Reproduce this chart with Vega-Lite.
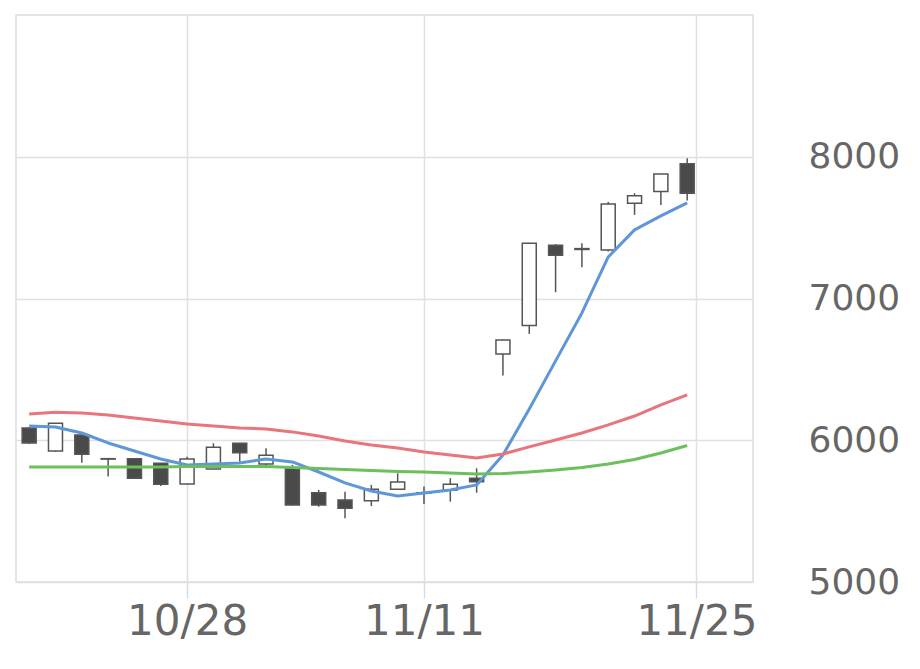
{
  "$schema": "https://vega.github.io/schema/vega-lite/v6.json",
  "autosize": {"type": "none"},
  "width": 737,
  "height": 567,
  "padding": {"left": 16, "top": 15, "right": 167, "bottom": 87},
  "background": "white",
  "config": {
    "view": {"stroke": "#dddddd", "strokeWidth": 1.5},
    "axis": {"labelFont": "DejaVu Sans", "labelColor": "#666666", "labelFontSize": 36, "gridColor": "#e0e0e0", "gridWidth": 1.5, "domain": false}
  },
  "data": {"values": [
    {"i": 0, "date": "10/18", "open": 6087, "high": 6090, "low": 5975, "close": 5981, "ma5": 6101, "ma25": 6186, "ma75": 5812},
    {"i": 1, "date": "10/21", "open": 5924, "high": 6122, "low": 5917, "close": 6120, "ma5": 6094, "ma25": 6198, "ma75": 5812},
    {"i": 2, "date": "10/22", "open": 6037, "high": 6040, "low": 5842, "close": 5901, "ma5": 6051, "ma25": 6193, "ma75": 5812},
    {"i": 3, "date": "10/23", "open": 5870, "high": 5872, "low": 5745, "close": 5867, "ma5": 5981, "ma25": 6178, "ma75": 5812},
    {"i": 4, "date": "10/24", "open": 5870, "high": 5872, "low": 5728, "close": 5732, "ma5": 5924, "ma25": 6157, "ma75": 5812},
    {"i": 5, "date": "10/25", "open": 5838, "high": 5840, "low": 5678, "close": 5690, "ma5": 5868, "ma25": 6136, "ma75": 5812},
    {"i": 6, "date": "10/28", "open": 5692, "high": 5884, "low": 5690, "close": 5868, "ma5": 5826, "ma25": 6115, "ma75": 5815},
    {"i": 7, "date": "10/29", "open": 5797, "high": 5979, "low": 5795, "close": 5951, "ma5": 5833, "ma25": 6101, "ma75": 5815},
    {"i": 8, "date": "10/30", "open": 5979, "high": 5982, "low": 5849, "close": 5912, "ma5": 5840, "ma25": 6087, "ma75": 5815},
    {"i": 9, "date": "10/31", "open": 5833, "high": 5944, "low": 5802, "close": 5894, "ma5": 5868, "ma25": 6080, "ma75": 5815},
    {"i": 10, "date": "11/01", "open": 5802, "high": 5826, "low": 5540, "close": 5543, "ma5": 5847, "ma25": 6059, "ma75": 5808},
    {"i": 11, "date": "11/05", "open": 5630, "high": 5649, "low": 5531, "close": 5543, "ma5": 5776, "ma25": 6030, "ma75": 5801},
    {"i": 12, "date": "11/06", "open": 5579, "high": 5637, "low": 5450, "close": 5520, "ma5": 5699, "ma25": 5995, "ma75": 5794},
    {"i": 13, "date": "11/07", "open": 5574, "high": 5685, "low": 5536, "close": 5654, "ma5": 5642, "ma25": 5967, "ma75": 5787},
    {"i": 14, "date": "11/08", "open": 5654, "high": 5767, "low": 5652, "close": 5706, "ma5": 5607, "ma25": 5946, "ma75": 5780},
    {"i": 15, "date": "11/11", "open": 5630, "high": 5673, "low": 5550, "close": 5628, "ma5": 5628, "ma25": 5917, "ma75": 5776},
    {"i": 16, "date": "11/12", "open": 5649, "high": 5732, "low": 5567, "close": 5689, "ma5": 5649, "ma25": 5896, "ma75": 5769},
    {"i": 17, "date": "11/13", "open": 5732, "high": 5802, "low": 5630, "close": 5708, "ma5": 5685, "ma25": 5875, "ma75": 5762},
    {"i": 18, "date": "11/14", "open": 6609, "high": 6710, "low": 6456, "close": 6708, "ma5": 5896, "ma25": 5903, "ma75": 5765},
    {"i": 19, "date": "11/15", "open": 6809, "high": 7392, "low": 6750, "close": 7390, "ma5": 6221, "ma25": 5953, "ma75": 5776},
    {"i": 20, "date": "11/18", "open": 7376, "high": 7383, "low": 7044, "close": 7305, "ma5": 6560, "ma25": 6002, "ma75": 5790},
    {"i": 21, "date": "11/19", "open": 7352, "high": 7390, "low": 7221, "close": 7346, "ma5": 6898, "ma25": 6051, "ma75": 5808},
    {"i": 22, "date": "11/20", "open": 7343, "high": 7680, "low": 7331, "close": 7666, "ma5": 7293, "ma25": 6108, "ma75": 5833},
    {"i": 23, "date": "11/21", "open": 7672, "high": 7743, "low": 7590, "close": 7724, "ma5": 7484, "ma25": 6171, "ma75": 5864},
    {"i": 24, "date": "11/22", "open": 7754, "high": 7880, "low": 7660, "close": 7879, "ma5": 7583, "ma25": 6249, "ma75": 5910},
    {"i": 25, "date": "11/25", "open": 7950, "high": 7990, "low": 7691, "close": 7743, "ma5": 7675, "ma25": 6320, "ma75": 5963}
  ]},
  "encoding": {
    "x": {"field": "i", "type": "quantitative",
      "scale": {"domain": [-0.5, 27.5], "nice": false, "zero": false, "padding": 0},
      "axis": {"title": null, "values": [6, 15, 25.35], "labelExpr": "datum.value == 6 ? '10/28' : datum.value == 15 ? '11/11' : '11/25'", "labelFontSize": 42, "tickColor": "#d5dce8", "tickSize": 16, "tickWidth": 1.5, "labelPadding": 3, "grid": true}}
  },
  "layer": [
    {
      "mark": {"type": "rule", "color": "#555555", "strokeWidth": 1.5},
      "encoding": {
        "y": {"field": "low", "type": "quantitative", "scale": {"domain": [5000, 9000], "nice": false, "zero": false},
          "axis": {"orient": "right", "title": null, "values": [5000, 6000, 7000, 8000], "format": "d", "ticks": false, "labelPadding": 55, "grid": true}},
        "y2": {"field": "high"}
      }
    },
    {
      "mark": {"type": "bar", "size": 14, "stroke": "#555555", "strokeWidth": 1.5},
      "encoding": {
        "y": {"field": "open", "type": "quantitative"},
        "y2": {"field": "close"},
        "fill": {"condition": {"test": "datum.close >= datum.open", "value": "#ffffff"}, "value": "#4a4a4a"}
      }
    },
    {
      "transform": [{"fold": ["ma5", "ma25", "ma75"], "as": ["series", "value"]}],
      "mark": {"type": "line", "strokeWidth": 3, "interpolate": "linear", "strokeJoin": "round"},
      "encoding": {
        "y": {"field": "value", "type": "quantitative"},
        "color": {"field": "series", "type": "nominal", "legend": null,
          "scale": {"domain": ["ma5", "ma25", "ma75"], "range": ["#5f96d8", "#e8757b", "#6cbf5c"]}}
      }
    }
  ]
}
